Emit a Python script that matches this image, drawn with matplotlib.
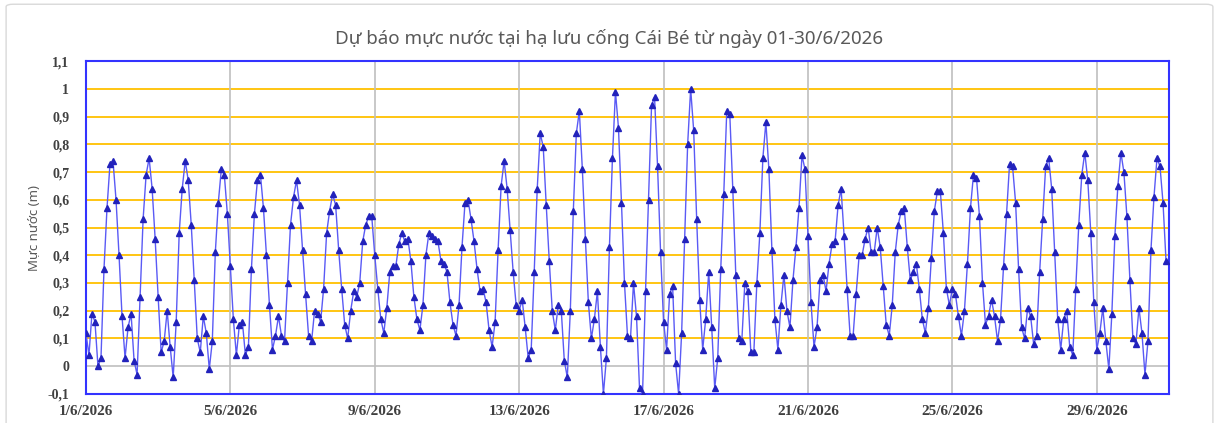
import matplotlib
matplotlib.use("Agg")
import matplotlib.pyplot as plt
from matplotlib.patches import FancyBboxPatch
import pandas as pd

# Water level every 2 hours, 12 values per day, 1/6 -> 30/6/2026
day01 = [0.12, 0.04, 0.19, 0.16, 0.00, 0.03, 0.35, 0.57, 0.73, 0.74, 0.60, 0.40]
day02 = [0.18, 0.03, 0.14, 0.19, 0.02, -0.03, 0.25, 0.53, 0.69, 0.75, 0.64, 0.46]
day03 = [0.25, 0.05, 0.09, 0.20, 0.07, -0.04, 0.16, 0.48, 0.64, 0.74, 0.67, 0.51]
day04 = [0.31, 0.10, 0.05, 0.18, 0.12, -0.01, 0.09, 0.41, 0.59, 0.71, 0.69, 0.55]
day05 = [0.36, 0.17, 0.04, 0.15, 0.16, 0.04, 0.07, 0.35, 0.55, 0.67, 0.69, 0.57]
day06 = [0.40, 0.22, 0.06, 0.11, 0.18, 0.11, 0.09, 0.30, 0.51, 0.61, 0.67, 0.58]
day07 = [0.42, 0.26, 0.11, 0.09, 0.20, 0.19, 0.16, 0.28, 0.48, 0.56, 0.62, 0.58]
day08 = [0.42, 0.28, 0.15, 0.10, 0.20, 0.27, 0.25, 0.30, 0.45, 0.51, 0.54, 0.54]
day09 = [0.40, 0.28, 0.17, 0.12, 0.21, 0.34, 0.36, 0.36, 0.44, 0.48, 0.45, 0.46]
day10 = [0.38, 0.25, 0.17, 0.13, 0.22, 0.40, 0.48, 0.47, 0.46, 0.45, 0.38, 0.37]
day11 = [0.34, 0.23, 0.15, 0.11, 0.22, 0.43, 0.59, 0.60, 0.53, 0.45, 0.35, 0.27]
day12 = [0.28, 0.23, 0.13, 0.07, 0.16, 0.42, 0.65, 0.74, 0.64, 0.49, 0.34, 0.22]
day13 = [0.20, 0.24, 0.14, 0.03, 0.06, 0.34, 0.64, 0.84, 0.79, 0.58, 0.38, 0.20]
day14 = [0.13, 0.22, 0.20, 0.02, -0.04, 0.20, 0.56, 0.84, 0.92, 0.71, 0.46, 0.23]
day15 = [0.10, 0.17, 0.27, 0.07, -0.10, 0.03, 0.43, 0.75, 0.99, 0.86, 0.59, 0.30]
day16 = [0.11, 0.10, 0.30, 0.18, -0.08, -0.10, 0.27, 0.60, 0.94, 0.97, 0.72, 0.41]
day17 = [0.16, 0.06, 0.26, 0.29, 0.01, -0.10, 0.12, 0.46, 0.80, 1.00, 0.85, 0.53]
day18 = [0.24, 0.06, 0.17, 0.34, 0.14, -0.08, 0.03, 0.35, 0.62, 0.92, 0.91, 0.64]
day19 = [0.33, 0.10, 0.09, 0.30, 0.27, 0.05, 0.05, 0.30, 0.48, 0.75, 0.88, 0.71]
day20 = [0.42, 0.17, 0.06, 0.22, 0.33, 0.20, 0.14, 0.31, 0.43, 0.57, 0.76, 0.71]
day21 = [0.47, 0.23, 0.07, 0.14, 0.31, 0.33, 0.27, 0.37, 0.44, 0.45, 0.58, 0.64]
day22 = [0.47, 0.28, 0.11, 0.11, 0.26, 0.40, 0.40, 0.46, 0.50, 0.41, 0.41, 0.50]
day23 = [0.43, 0.29, 0.15, 0.11, 0.22, 0.41, 0.51, 0.56, 0.57, 0.43, 0.31, 0.34]
day24 = [0.37, 0.28, 0.17, 0.12, 0.21, 0.39, 0.56, 0.63, 0.63, 0.48, 0.28, 0.22]
day25 = [0.28, 0.26, 0.18, 0.11, 0.20, 0.37, 0.57, 0.69, 0.68, 0.54, 0.30, 0.15]
day26 = [0.18, 0.24, 0.18, 0.09, 0.17, 0.36, 0.55, 0.73, 0.72, 0.59, 0.35, 0.14]
day27 = [0.10, 0.21, 0.18, 0.08, 0.11, 0.34, 0.53, 0.72, 0.75, 0.64, 0.41, 0.17]
day28 = [0.06, 0.17, 0.20, 0.07, 0.04, 0.28, 0.51, 0.69, 0.77, 0.67, 0.48, 0.23]
day29 = [0.06, 0.12, 0.21, 0.09, -0.01, 0.19, 0.47, 0.65, 0.77, 0.70, 0.54, 0.31]
day30 = [0.10, 0.08, 0.21, 0.12, -0.03, 0.09, 0.42, 0.61, 0.75, 0.72, 0.59, 0.38]

days = [day01, day02, day03, day04, day05, day06, day07, day08, day09, day10,
        day11, day12, day13, day14, day15, day16, day17, day18, day19, day20,
        day21, day22, day23, day24, day25, day26, day27, day28, day29, day30]
levels = [v for d in days for v in d]
times = pd.date_range("2026-06-01", periods=len(levels), freq="2h")

y_ticks = [-0.1, 0, 0.1, 0.2, 0.3, 0.4, 0.5, 0.6, 0.7, 0.8, 0.9, 1.0, 1.1]
x_ticks = pd.date_range("2026-06-01", "2026-06-29", freq="4D")

fig = plt.figure(figsize=(12.19, 4.23), dpi=100)
frame = FancyBboxPatch((0.005, -0.05), 0.99, 1.04, boxstyle="round,pad=0,rounding_size=0.006",
                       transform=fig.transFigure, facecolor="white", edgecolor="#d9d9d9", lw=1, zorder=-10)
fig.patches.append(frame)
ax = fig.add_axes([0.0705, 0.0686, 0.8885, 0.787])

# grid lines
for y in y_ticks[2:-1]:
    ax.axhline(y, color="#FFC000", lw=1.3, zorder=1)
ax.axhline(0, color="#BFBFBF", lw=1.2, zorder=1)
for t in x_ticks[1:]:
    ax.axvline(t, color="#BFBFBF", lw=1.2, zorder=1)

ax.plot(times, levels, color="#5A5AF5", lw=1.0, marker="^", markersize=4.5,
        markerfacecolor="#2222BB", markeredgecolor="#2222BB", zorder=3)

ax.set_xlim(pd.Timestamp("2026-06-01"), pd.Timestamp("2026-07-01"))
ax.set_ylim(-0.1, 1.1)
ax.set_yticks(y_ticks)
ax.set_yticklabels([("%g" % v).replace(".", ",") for v in y_ticks])
ax.set_xticks(x_ticks)
ax.set_xticklabels([f"{d.day}/{d.month}/{d.year}" for d in x_ticks])
ax.tick_params(length=0, colors="#404040")
ax.tick_params(axis="y", pad=12, labelsize=10)
ax.tick_params(axis="x", pad=8, labelsize=11)
for lab in ax.get_xticklabels() + ax.get_yticklabels():
    lab.set_family("Liberation Serif")
    lab.set_fontweight("bold")

for s in ax.spines.values():
    s.set_color("#3333FF")
    s.set_linewidth(1.5)

ax.set_ylabel("Mực nước (m)", fontsize=9.5, color="#595959", family="Noto Sans", labelpad=5)
fig.text(0.5, 0.91, "Dự báo mực nước tại hạ lưu cống Cái Bé từ ngày 01-30/6/2026",
         ha="center", va="center", fontsize=13.5, color="#595959", family="Noto Sans")

fig.savefig("out.png", dpi=100, facecolor="white")
